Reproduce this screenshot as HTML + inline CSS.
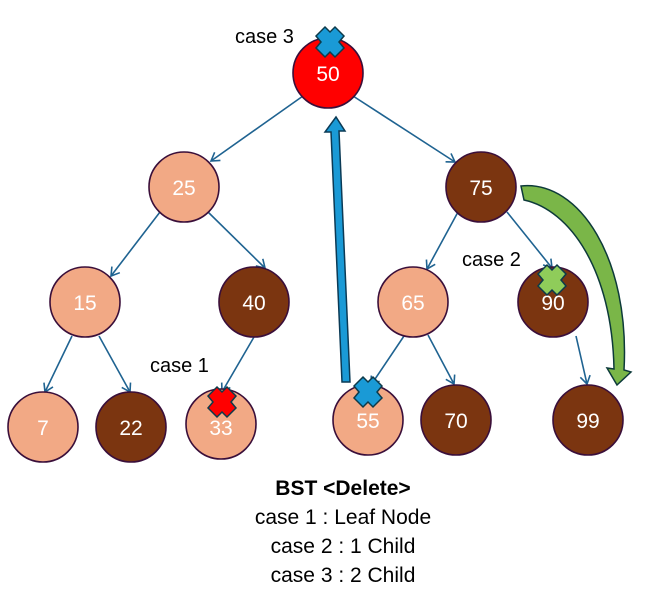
<!DOCTYPE html>
<html><head><meta charset="utf-8"><style>
html,body{margin:0;padding:0;background:#fff;}
svg{display:block;font-family:"Liberation Sans","Noto Sans CJK KR",sans-serif;}
</style></head><body>
<svg width="664" height="601" viewBox="0 0 664 601" xmlns="http://www.w3.org/2000/svg">
<defs>
<marker id="a" markerWidth="12" markerHeight="12" refX="9" refY="6" orient="auto" markerUnits="userSpaceOnUse">
<path d="M1,1 L9,6 L1,11" fill="none" stroke="#1f6391" stroke-width="1.6"/>
</marker>
<g id="x"><path d="M-5,-15 L0,-10 L5,-15 L14,-6 L9,0 L14,6 L5,15 L0,10 L-5,15 L-14,6 L-9,0 L-14,-6 Z"/></g>
</defs>
<g stroke="#1f6391" stroke-width="1.6" marker-end="url(#a)">
<line x1="303" y1="96" x2="211" y2="161"/>
<line x1="353" y1="96" x2="455" y2="162"/>
<line x1="160" y1="212" x2="111" y2="276"/>
<line x1="208" y1="212" x2="265" y2="268"/>
<line x1="458" y1="212" x2="427" y2="269"/>
<line x1="507" y1="212" x2="552" y2="268"/>
<line x1="72" y1="336" x2="45" y2="392"/>
<line x1="99" y1="336" x2="130" y2="392"/>
<line x1="254" y1="337" x2="222" y2="392"/>
<line x1="404" y1="336" x2="371" y2="385"/>
<line x1="428" y1="335" x2="454" y2="384"/>
<line x1="576" y1="336" x2="587" y2="384"/>
</g>
<g stroke="#3a0f3a" stroke-width="1.6" font-size="21" text-anchor="middle">
<circle cx="328" cy="73" r="35" fill="#ff0000"/>
<circle cx="184" cy="187" r="35" fill="#f2a985"/>
<circle cx="481" cy="187" r="35" fill="#7b3510"/>
<circle cx="85" cy="302" r="35" fill="#f2a985"/>
<circle cx="254" cy="302" r="35" fill="#7b3510"/>
<circle cx="413" cy="302" r="35" fill="#f2a985"/>
<circle cx="553" cy="302" r="35" fill="#7b3510"/>
<circle cx="43" cy="427" r="35" fill="#f2a985"/>
<circle cx="131" cy="427" r="35" fill="#7b3510"/>
<circle cx="221" cy="424" r="35" fill="#f2a985"/>
<circle cx="368" cy="420" r="35" fill="#f2a985"/>
<circle cx="456" cy="420" r="35" fill="#7b3510"/>
<circle cx="588" cy="420" r="35" fill="#7b3510"/>
</g>
<g fill="#fff" font-size="21" text-anchor="middle">
<text x="328" y="81">50</text><text x="184" y="195">25</text><text x="481" y="195">75</text>
<text x="85" y="310">15</text><text x="254" y="310">40</text><text x="413" y="310">65</text>
<text x="553" y="310">90</text><text x="43" y="435">7</text><text x="131" y="435">22</text>
<text x="221" y="435">33</text><text x="368" y="428">55</text><text x="456" y="428">70</text>
<text x="588" y="428">99</text>
</g>
<!-- blue arrow -->
<path d="M350,382 L339,131 L345,131 L336,117 L325,132 L331,132 L342,382 Z" fill="#1a9ad6" stroke="#0b3a55" stroke-width="1.5"/>
<!-- green curved arrow -->
<path d="M521,186 C580,180 630,260 624,370 L631,372 L617,385 L607,368 L614,369 C612,270 570,210 524,200 Z" fill="#7ab648" stroke="#0d3a3a" stroke-width="1.5"/>
<g stroke="#0d3a4a" stroke-width="1.5">
<use href="#x" x="330" y="42" fill="#1a9ad6"/>
<use href="#x" x="222" y="402" fill="#ff0000"/>
<use href="#x" x="552" y="280" fill="#8fcc5a"/>
<use href="#x" x="368" y="392" fill="#1a9ad6"/>
</g>
<g font-size="20" fill="#000">
<text x="235" y="43">case 3</text>
<text x="462" y="266">case 2</text>
<text x="150" y="372">case 1</text>
</g>
<g font-size="21" text-anchor="middle" fill="#000">
<text x="343" y="495" font-weight="bold">BST  &lt;Delete&gt;</text>
<text x="343" y="524">case 1 : Leaf Node</text>
<text x="343" y="553">case 2 : 1 Child</text>
<text x="343" y="582">case 3 : 2 Child</text>
</g>
</svg>
</body></html>
